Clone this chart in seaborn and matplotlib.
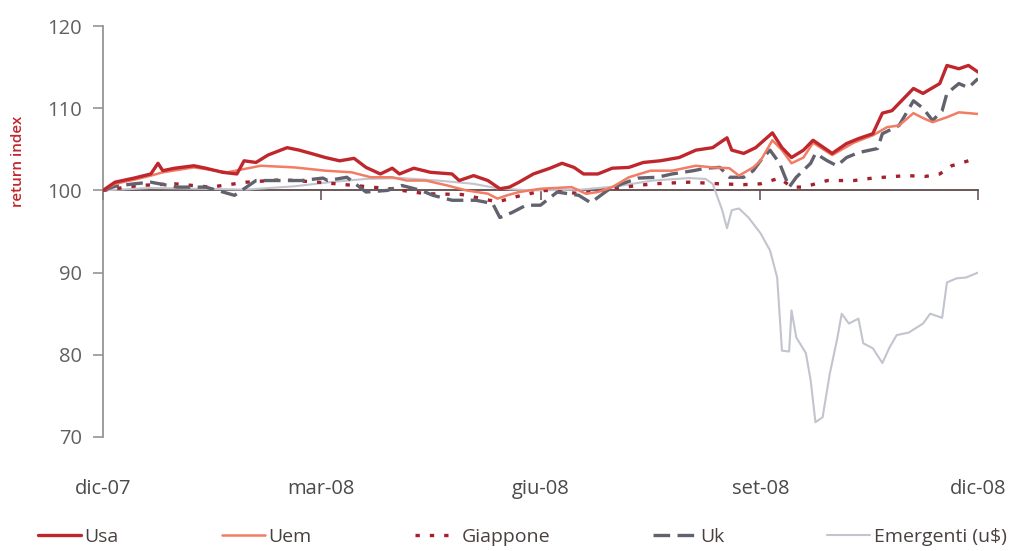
import matplotlib
matplotlib.use("Agg")
import matplotlib.pyplot as plt
import seaborn as sns
import pandas as pd

# Return indices (base 100 = dic-07); x given as days elapsed since 2007-12-01
usa_days = [0, 5, 13, 20, 23, 25, 30, 38, 43, 50, 56, 59, 64, 69, 77, 82, 87, 93, 99, 105,
            110, 116, 121, 124, 130, 137, 146, 149, 155, 161, 166, 170, 174, 180, 187, 192,
            197, 201, 207, 213, 220, 226, 233, 241, 248, 255, 261, 263, 268, 273, 280, 284,
            288, 293, 297, 303, 305, 311, 316, 322, 326, 330, 339, 343, 350, 353, 358, 362, 366]
usa_vals = [100, 101, 101.5, 102, 103.3, 102.4, 102.7, 103, 102.7, 102.2, 102, 103.6, 103.4,
            104.3, 105.2, 104.9, 104.5, 104, 103.6, 103.9, 102.8, 102, 102.7, 102, 102.7, 102.2,
            102, 101.2, 101.8, 101.2, 100.2, 100.4, 101, 102, 102.7, 103.3, 102.8, 102, 102,
            102.7, 102.8, 103.4, 103.6, 104, 104.9, 105.2, 106.4, 104.9, 104.5, 105.2, 107,
            105.2, 104, 104.9, 106.1, 104.9, 104.5, 105.7, 106.3, 106.9, 109.4, 109.7, 112.4,
            111.8, 113, 115.2, 114.8, 115.2, 114.4]

uem_days = [0, 5, 13, 20, 25, 38, 52, 66, 80, 93, 104, 112, 121, 127, 135, 144, 152, 161,
            165, 169, 174, 183, 196, 202, 207, 213, 220, 229, 238, 248, 255, 262, 266, 272,
            275, 280, 284, 288, 293, 297, 305, 314, 322, 328, 333, 339, 343, 347, 353, 358, 366]
uem_vals = [100, 100.8, 101.3, 101.8, 102.2, 102.8, 102.2, 103, 102.8, 102.4, 102.2, 101.6,
            101.6, 101.2, 101.2, 100.6, 100, 99.6, 99, 99.4, 99.8, 100.2, 100.4, 99.6, 99.8,
            100.4, 101.6, 102.4, 102.4, 103, 102.8, 102.7, 101.8, 102.8, 103.6, 106.1, 104.9,
            103.3, 104, 105.8, 104.3, 105.8, 106.7, 107.7, 107.9, 109.4, 108.8, 108.3, 108.9,
            109.5, 109.3]

jp_days = [0, 15, 30, 45, 60, 75, 90, 105, 120, 135, 150, 165, 175, 185, 200, 215, 230, 245,
           258, 268, 275, 283, 288, 293, 303, 314, 322, 336, 344, 350, 355, 362, 366]
jp_vals = [100, 100.6, 100.8, 100.4, 101, 101.3, 101, 100.6, 100.2, 99.6, 99.5, 98.6, 99.4,
           100, 99.6, 100.3, 100.8, 101, 100.8, 100.7, 100.8, 101.5, 100.4, 100.4, 101.2,
           101.2, 101.5, 101.8, 101.7, 102, 103, 103.6, 103.9]

uk_days = [0, 5, 13, 20, 31, 43, 55, 64, 72, 83, 92, 94, 102, 110, 119, 125, 133, 138, 146,
           156, 163, 166, 171, 177, 183, 190, 199, 204, 211, 217, 224, 232, 238, 247, 252, 258,
           262, 268, 272, 275, 279, 283, 287, 290, 296, 298, 303, 307, 311, 316, 324, 326, 333,
           339, 343, 347, 351, 353, 358, 362, 366]
uk_vals = [100, 100.5, 100.8, 101, 100.4, 100.4, 99.4, 101.2, 101.2, 101.2, 101.5, 101.2,
           101.6, 99.8, 100, 100.6, 100, 99.4, 98.8, 98.8, 98.4, 96.7, 97.3, 98.2, 98.2, 99.8,
           99.4, 98.5, 100, 100.8, 101.5, 101.6, 102, 102.4, 102.7, 102.8, 101.6, 101.6, 102.4,
           103.6, 104.9, 103.3, 100.4, 101.6, 103.3, 104.5, 103.6, 103, 104, 104.6, 105.1,
           106.9, 107.9, 110.9, 110, 108.5, 109.7, 111.8, 113, 112.5, 113.6]

em_days = [0, 20, 40, 60, 80, 95, 110, 125, 140, 155, 166, 180, 200, 215, 230, 245, 252, 255,
           259, 261, 263, 266, 270, 275, 279, 282, 284, 287, 288, 290, 294, 296, 298, 301, 304,
           307, 309, 312, 316, 318, 322, 326, 329, 332, 337, 343, 346, 351, 353, 357, 361, 366]
em_vals = [100, 100.3, 100.2, 100.1, 100.5, 101, 101.4, 101.5, 101.2, 100.8, 100.2, 100,
           100.1, 100.5, 101.2, 101.5, 101.4, 100.8, 97.6, 95.4, 97.6, 97.8, 96.7, 94.8, 92.7,
           89.4, 80.5, 80.4, 85.4, 82.1, 80.2, 76.9, 71.8, 72.4, 77.7, 81.8, 85, 83.8, 84.4,
           81.4, 80.8, 79, 80.9, 82.4, 82.7, 83.8, 85, 84.5, 88.8, 89.3, 89.4, 90]

series_names = ["Usa", "Uem", "Giappone", "Uk", "Emergenti (u$)"]
tick_dates = ["2007-12-01", "2008-03-01", "2008-06-01", "2008-09-01", "2008-12-01"]
tick_labels = ["dic-07", "mar-08", "giu-08", "set-08", "dic-08"]
y_ticks = [70, 80, 90, 100, 110, 120]

start = pd.Timestamp("2007-12-01")


def frame(days, vals):
    return pd.DataFrame({"date": start + pd.to_timedelta(days, unit="D"), "value": vals})


data = {
    "Usa": frame(usa_days, usa_vals),
    "Uem": frame(uem_days, uem_vals),
    "Giappone": frame(jp_days, jp_vals),
    "Uk": frame(uk_days, uk_vals),
    "Emergenti (u$)": frame(em_days, em_vals),
}

styles = {
    "Usa": dict(color="#c0272d", lw=2.4, dashes=None, z=6),
    "Uem": dict(color="#f27c64", lw=1.8, dashes=None, z=5),
    "Giappone": dict(color="#a3202c", lw=2.4, dashes=(1.3, 3.0), z=3),
    "Uk": dict(color="#62626e", lw=2.4, dashes=(5, 2.2), z=4),
    "Emergenti (u$)": dict(color="#c2c4ce", lw=1.5, dashes=None, z=2),
}

sns.set_theme(style="white")
plt.rcParams["font.family"] = ["Open Sans", "DejaVu Sans"]

fig = plt.figure(figsize=(10.16, 5.51), dpi=100)
ax = fig.add_axes([0.1014, 0.2069, 0.8612, 0.7459])

for name in series_names:
    st = styles[name]
    sns.lineplot(data=data[name], x="date", y="value", ax=ax, color=st["color"],
                 linewidth=st["lw"], estimator=None, label=name, zorder=st["z"])
    line = ax.lines[-1]
    if st["dashes"] is not None:
        line.set_dashes(st["dashes"])
        line.set_dash_capstyle("butt")

ax.set_xlim(pd.Timestamp(tick_dates[0]), pd.Timestamp(tick_dates[-1]))
ax.set_ylim(70, 120)

# horizontal baseline at 100 carrying the month ticks
for side in ["top", "right"]:
    ax.spines[side].set_visible(False)
ax.spines["bottom"].set_position(("data", 100))
ax.spines["bottom"].set_color("#5e4a4a")
ax.spines["bottom"].set_linewidth(1.3)
ax.spines["bottom"].set_zorder(1)
ax.spines["left"].set_color("#8c8c8c")
ax.spines["left"].set_linewidth(1.2)

ax.set_xticks(pd.to_datetime(tick_dates))
ax.tick_params(axis="x", which="both", direction="out", length=7, width=1.1,
               color="#5e4a4a", labelbottom=False, bottom=True)
ax.set_yticks(y_ticks)
ax.tick_params(axis="y", direction="out", length=7, width=1.1, color="#8c8c8c",
               left=True, labelsize=14.5, labelcolor="#606060", pad=8)

# month labels below the plotting area
sec = ax.secondary_xaxis(location=0)
sec.set_xticks(pd.to_datetime(tick_dates), labels=tick_labels)
sec.spines["bottom"].set_visible(False)
sec.tick_params(axis="x", length=0, pad=30, labelsize=14.5, labelcolor="#4a4a4a")

ax.set_xlabel("")
ax.set_ylabel("return index", color="#c0272d", fontsize=11, fontweight="semibold")
ax.yaxis.set_label_coords(-0.089, 0.67)

ax.get_legend().remove()
handles, labels = ax.get_legend_handles_labels()
leg = fig.legend(handles, labels, loc="center", bbox_to_anchor=(0.514, 0.026), ncol=5,
                 frameon=False, handlelength=2.2, handletextpad=0.2, columnspacing=5.3,
                 prop={"size": 14})
for t in leg.get_texts():
    t.set_color("#4a4040")

fig.savefig("out.png", dpi=100)
